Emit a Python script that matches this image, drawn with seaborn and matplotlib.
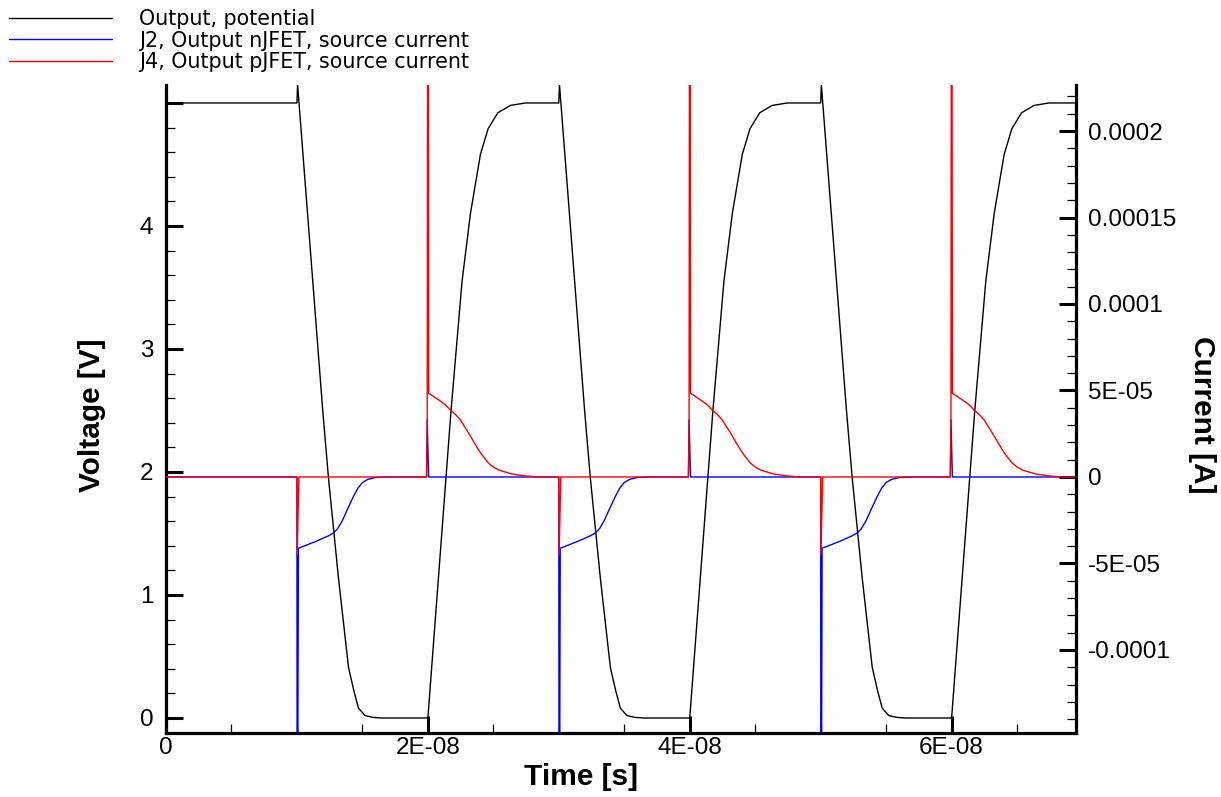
import numpy as np
import matplotlib
matplotlib.use("Agg")
import matplotlib.pyplot as plt
import seaborn as sns
from matplotlib.ticker import MultipleLocator

# ---------------- data (time in ns, voltage in V, current in A) ----------------
volt_t_ns = [0.0, 10.0, 10.05, 11.97, 12.41, 13.17, 13.94, 14.35, 14.7, 15.2, 15.8, 16.5,
             20.0, 21.77, 22.61, 23.25, 24.01, 24.6, 25.34, 26.3, 27.45,
             30.0, 30.05, 31.97, 32.41, 33.17, 33.94, 34.35, 34.7, 35.2, 35.8, 36.5,
             40.0, 41.77, 42.61, 43.25, 44.01, 44.6, 45.34, 46.3, 47.45,
             50.0, 50.05, 51.97, 52.41, 53.17, 53.94, 54.35, 54.7, 55.2, 55.8, 56.5,
             60.0, 61.77, 62.61, 63.25, 64.01, 64.6, 65.34, 66.3, 67.45, 69.5]
volt_v = [5.0, 5.0, 5.15, 2.50, 1.95, 1.14, 0.41, 0.22, 0.08, 0.02, 0.005, 0.0,
          0.0, 2.50, 3.55, 4.10, 4.58, 4.79, 4.92, 4.98, 5.0,
          5.0, 5.15, 2.50, 1.95, 1.14, 0.41, 0.22, 0.08, 0.02, 0.005, 0.0,
          0.0, 2.50, 3.55, 4.10, 4.58, 4.79, 4.92, 4.98, 5.0,
          5.0, 5.15, 2.50, 1.95, 1.14, 0.41, 0.22, 0.08, 0.02, 0.005, 0.0,
          0.0, 2.50, 3.55, 4.10, 4.58, 4.79, 4.92, 4.98, 5.0, 5.0]

njfet_t_ns = [0.0, 10.0, 10.02, 10.11, 11.39, 12.41, 12.75, 13.1, 13.45, 13.9, 14.3, 14.65, 15.0, 15.4, 16.0, 17.0,
              19.9, 19.95, 20.06,
              30.0, 30.02, 30.11, 31.39, 32.41, 32.75, 33.1, 33.45, 33.9, 34.3, 34.65, 35.0, 35.4, 36.0, 37.0,
              39.9, 39.95, 40.06,
              50.0, 50.02, 50.11, 51.39, 52.41, 52.75, 53.1, 53.45, 53.9, 54.3, 54.65, 55.0, 55.4, 56.0, 57.0,
              59.9, 59.95, 60.06, 69.5]
njfet_i = [0.0, 0.0, -3e-4, -4.12e-5, -3.74e-5, -3.4e-5, -3.25e-5, -3.0e-5, -2.55e-5, -1.8e-5, -1.15e-5, -6.5e-6, -3.2e-6, -1.4e-6, -3e-7, 0.0,
           0.0, 3.3e-5, 0.0,
           0.0, -3e-4, -4.12e-5, -3.74e-5, -3.4e-5, -3.25e-5, -3.0e-5, -2.55e-5, -1.8e-5, -1.15e-5, -6.5e-6, -3.2e-6, -1.4e-6, -3e-7, 0.0,
           0.0, 3.3e-5, 0.0,
           0.0, -3e-4, -4.12e-5, -3.74e-5, -3.4e-5, -3.25e-5, -3.0e-5, -2.55e-5, -1.8e-5, -1.15e-5, -6.5e-6, -3.2e-6, -1.4e-6, -3e-7, 0.0,
           0.0, 3.3e-5, 0.0, 0.0]

pjfet_t_ns = [0.0, 10.0, 10.02, 10.15,
              19.9, 19.95, 20.0, 20.06, 20.83, 21.3, 21.72, 22.1, 22.48, 23.12, 23.5, 23.88, 24.27, 24.65, 25.03, 25.41, 26.43, 27.45, 28.5,
              30.0, 30.02, 30.15,
              39.9, 39.95, 40.0, 40.06, 40.83, 41.3, 41.72, 42.1, 42.48, 43.12, 43.5, 43.88, 44.27, 44.65, 45.03, 45.41, 46.43, 47.45, 48.5,
              50.0, 50.02, 50.15,
              59.9, 59.95, 60.0, 60.06, 60.83, 61.3, 61.72, 62.1, 62.48, 63.12, 63.5, 63.88, 64.27, 64.65, 65.03, 65.41, 66.43, 67.45, 68.5,
              69.5]
pjfet_i = [0.0, 0.0, -4.5e-5, 0.0,
           0.0, 3.3e-5, 5e-4, 4.84e-5, 4.45e-5, 4.2e-5, 3.87e-5, 3.62e-5, 3.3e-5, 2.53e-5, 2.04e-5, 1.56e-5, 1.14e-5, 7.9e-6, 5.6e-6, 4e-6, 1.7e-6, 6e-7, 0.0,
           0.0, -4.5e-5, 0.0,
           0.0, 3.3e-5, 5e-4, 4.84e-5, 4.45e-5, 4.2e-5, 3.87e-5, 3.62e-5, 3.3e-5, 2.53e-5, 2.04e-5, 1.56e-5, 1.14e-5, 7.9e-6, 5.6e-6, 4e-6, 1.7e-6, 6e-7, 0.0,
           0.0, -4.5e-5, 0.0,
           0.0, 3.3e-5, 5e-4, 4.84e-5, 4.45e-5, 4.2e-5, 3.87e-5, 3.62e-5, 3.3e-5, 2.53e-5, 2.04e-5, 1.56e-5, 1.14e-5, 7.9e-6, 5.6e-6, 4e-6, 1.7e-6, 6e-7, 0.0,
           0.0]

series_labels = ["Output, potential",
                 "J2, Output nJFET, source current",
                 "J4, Output pJFET, source current"]

x_ticks = [0.0, 2e-8, 4e-8, 6e-8]
x_ticklabels = ["0", "2E-08", "4E-08", "6E-08"]
v_ticks = [0, 1, 2, 3, 4, 5]
v_ticklabels = ["0", "1", "2", "3", "4", ""]
i_ticks = [-1e-4, -5e-5, 0.0, 5e-5, 1e-4, 1.5e-4, 2e-4]
i_ticklabels = ["-0.0001", "-5E-05", "0", "5E-05", "0.0001", "0.00015", "0.0002"]

# ---------------- style ----------------
sns.set_theme(style="white")
plt.rcParams["font.family"] = ["Liberation Sans", "DejaVu Sans"]
plt.rcParams["text.color"] = "black"
plt.rcParams["axes.labelcolor"] = "black"
plt.rcParams["xtick.color"] = "black"
plt.rcParams["ytick.color"] = "black"

W, H = 1221, 797
fig = plt.figure(figsize=(W / 100, H / 100), dpi=100)
ax = fig.add_axes([166 / W, 1 - 733 / H, 910 / W, 648 / H])
ax2 = ax.twinx()

sns.lineplot(x=np.array(volt_t_ns) * 1e-9, y=volt_v, ax=ax, color="black",
             linewidth=1.0, estimator=None, sort=False)
h1 = ax.lines[-1]
sns.lineplot(x=np.array(njfet_t_ns) * 1e-9, y=njfet_i, ax=ax2, color="#0000ff",
             linewidth=1.0, estimator=None, sort=False)
h2 = ax2.lines[-1]
sns.lineplot(x=np.array(pjfet_t_ns) * 1e-9, y=pjfet_i, ax=ax2, color="#ff0000",
             linewidth=1.0, estimator=None, sort=False)
h3 = ax2.lines[-1]

ax.set_xlim(0, 6.95e-8)
ax.set_ylim(-0.122, 5.146)
ax2.set_ylim(-1.48e-4, 2.266e-4)

# spines
for a in (ax, ax2):
    a.spines["top"].set_visible(False)
ax.spines["right"].set_visible(False)
ax2.spines["left"].set_visible(False)
ax2.spines["bottom"].set_visible(False)
for s in ("left", "bottom"):
    ax.spines[s].set_linewidth(2.3)
    ax.spines[s].set_color("black")
ax2.spines["right"].set_linewidth(2.3)
ax2.spines["right"].set_color("black")

# ticks
ax.set_xticks(x_ticks, x_ticklabels, fontsize=17.5)
ax.set_yticks(v_ticks, v_ticklabels, fontsize=17.5)
ax2.set_yticks(i_ticks, i_ticklabels, fontsize=17.5)
ax.xaxis.set_minor_locator(MultipleLocator(5e-9))
ax.yaxis.set_minor_locator(MultipleLocator(0.2))
ax2.yaxis.set_minor_locator(MultipleLocator(1e-5))

ax.tick_params(axis="both", which="major", direction="in", length=12, width=2.2,
               color="black", labelcolor="black")
ax.tick_params(axis="both", which="minor", direction="in", length=6.5, width=0.9,
               color="black")
ax.tick_params(axis="x", which="both", top=False, bottom=True, pad=3)
ax.tick_params(axis="y", which="both", left=True, right=False, pad=9)
ax2.tick_params(axis="y", which="major", direction="in", length=12, width=2.2,
                color="black", labelcolor="black", left=False, right=True, pad=8.5)
ax2.tick_params(axis="y", which="minor", direction="in", length=6.5, width=0.9,
                color="black", left=False, right=True)

# axis labels
lab_kw = dict(fontfamily="Liberation Sans", fontweight="bold", fontsize=21.5,
              color="black")
ax.set_xlabel("Time [s]", va="center", ha="center", **lab_kw)
ax.xaxis.set_label_coords((581 - 166) / 910, -(777 - 733) / 648)
ax.set_ylabel("Voltage [V]", va="center", ha="center", rotation=90, **lab_kw)
ax.yaxis.set_label_coords((92 - 166) / 910, (733 - 415) / 648)
ax2.set_ylabel("Current [A]", va="center", ha="center", rotation=270, **lab_kw)
ax2.yaxis.set_label_coords((1202 - 166) / 910, (733 - 415) / 648)

# legend
leg = fig.legend([h1, h2, h3], series_labels, loc="upper left",
                 bbox_to_anchor=(9 / W, 1 - 9 / H), frameon=False,
                 borderpad=0, borderaxespad=0, handlelength=5.0, handletextpad=1.3,
                 labelspacing=0.08, prop={"family": "DejaVu Sans", "size": 14.9})
for txt in leg.get_texts():
    txt.set_color("black")

fig.savefig("out.png", dpi=100)
